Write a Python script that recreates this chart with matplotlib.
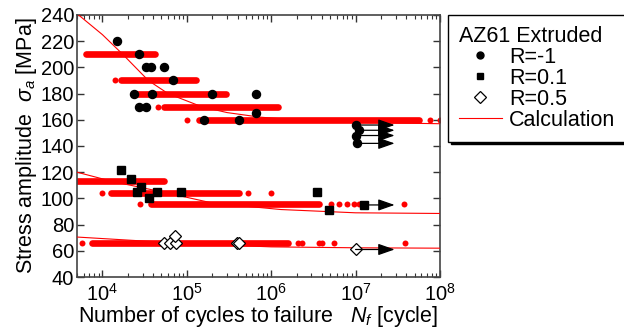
import numpy as np
import matplotlib
matplotlib.use('Agg')
from matplotlib import pyplot as plt
from matplotlib.lines import Line2D

plt.rcParams['font.family'] = ['Liberation Sans', 'DejaVu Sans']
plt.rcParams['mathtext.fontset'] = 'custom'
plt.rcParams['mathtext.rm'] = 'Liberation Sans'
plt.rcParams['mathtext.it'] = 'Liberation Sans:italic'

# experimental data, R=-1
r1_n = [1.5e4, 2.7e4, 3.3e4, 3.8e4, 5.3e4, 6.9e4, 2.4e4, 3.9e4, 2.0e5, 6.6e5,
        2.7e4, 3.3e4, 6.6e5, 1.6e5, 4.2e5]
r1_s = [220, 210, 200, 200, 200, 190, 180, 180, 180, 180,
        170, 170, 165, 160, 160]
r1_run_n = [1.0e7, 1.1e7, 1.0e7, 1.05e7]
r1_run_s = [156, 152, 148, 142]

# experimental data, R=0.1
r01_n = [1.65e4, 2.2e4, 2.9e4, 3.6e4, 2.6e4, 4.4e4, 8.5e4, 3.5e6, 4.9e6]
r01_s = [122, 115, 109, 100, 105, 105, 105, 105, 91]
r01_run_n = [1.26e7]
r01_run_s = [95]

# experimental data, R=0.5
r05_n = [5.4e4, 6.4e4, 7.4e4, 7.2e4, 3.9e5, 4.2e5]
r05_s = [66, 66, 66, 71, 66, 66]
r05_run_n = [1.0e7]
r05_run_s = [61]

# simulated scatter, dense bands: level, first N, last N
band_s = [210, 190, 180, 170, 160, 113, 104, 96, 66]
band_n0 = [6.4e3, 1.65e4, 2.3e4, 5.3e4, 1.4e5, 4.9e3, 1.25e4, 3.8e4, 7.6e3]
band_n1 = [4.2e4, 1.3e5, 2.9e5, 1.2e6, 5.7e7, 5.3e4, 4.2e5, 3.7e6, 1.6e6]

# simulated scatter, single points
dot_n = [1.4e4, 4.5e4, 1.0e5, 7.6e7, 1.0e8,
         1.0e4, 5.3e5, 1.0e6, 2.8e4,
         5.1e6, 6.3e6, 8.0e6, 9.7e6, 1.1e7, 3.7e7,
         5.7e3, 2.1e6, 2.3e6, 3.7e6, 4.0e6, 5.6e6, 3.8e7]
dot_s = [190, 170, 160, 160, 160,
         104, 104, 104, 96,
         96, 96, 96, 96, 96, 96,
         66, 66, 66, 66, 66, 66, 66]

# calculation curves
calc1_n = [5e3, 1e4, 1.74e4, 3.5e4, 6e4, 1.5e5, 3e5, 7.4e5, 3e6, 1e7, 1e8]
calc1_s = [241, 225, 210, 190, 180, 170, 165.5, 162, 159, 158, 157]
calc01_n = [5e3, 1.3e4, 6e4, 2e5, 1.3e6, 1e7, 1e8]
calc01_s = [120, 113, 104, 96.5, 91.5, 89, 88.5]
calc05_n = [5e3, 3e4, 1e5, 1e6, 1e7, 1e8]
calc05_s = [70.5, 67.5, 65.5, 63, 62.3, 62]

fig = plt.figure(figsize=(6.24, 3.3), dpi=100)
ax = fig.add_axes([0.1234, 0.1606, 0.5817, 0.794])

red = '#ff0000'
for s, n0, n1 in zip(band_s, band_n0, band_n1):
    ax.plot([n0, n1], [s, s], color=red, lw=4.8, solid_capstyle='round', zorder=2)
ax.plot(dot_n, dot_s, 'o', color=red, ms=4.3, mec='none', zorder=2)

ax.plot(calc1_n, calc1_s, '-', color=red, lw=0.8, zorder=3)
ax.plot(calc01_n, calc01_s, '-', color=red, lw=0.8, zorder=3)
ax.plot(calc05_n, calc05_s, '-', color=red, lw=0.8, zorder=3)

ax.plot(r1_n + r1_run_n, r1_s + r1_run_s, 'o', color='k', ms=5.8, zorder=4)
ax.plot(r01_n + r01_run_n, r01_s + r01_run_s, 's', color='k', ms=5.5, zorder=4)
ax.plot(r05_n + r05_run_n, r05_s + r05_run_s, 'D', mfc='white', mec='k',
        ms=6.5, mew=0.9, zorder=4)

# run-out arrows
for n, s in zip(r1_run_n + r01_run_n + r05_run_n, r1_run_s + r01_run_s + r05_run_s):
    ax.annotate('', xy=(2.9e7, s), xytext=(n, s),
                arrowprops=dict(arrowstyle='-|>,head_length=1.0,head_width=0.35',
                                color='k', lw=0.9, shrinkA=0, shrinkB=0),
                zorder=5)

ax.set_xscale('log')
ax.set_xlim(5e3, 1e8)
ax.set_ylim(40, 240)
ax.set_yticks(np.arange(40, 241, 20))
ax.set_xticks([1e4, 1e5, 1e6, 1e7, 1e8])
ax.tick_params(which='both', direction='in', top=True, right=True,
               labelsize=14.5, color='#333333')
ax.tick_params(which='major', length=5, width=1)
ax.tick_params(which='minor', length=3, width=0.8)
ax.tick_params(axis='x', pad=4)
ax.tick_params(axis='y', pad=2)
for sp in ax.spines.values():
    sp.set_color('#444444')
    sp.set_linewidth(1.2)

ax.set_ylabel(r'Stress amplitude  $\sigma_a$ [MPa]', fontsize=15.5, labelpad=1)
ax.set_xlabel(r'Number of cycles to failure   $N_f$ [cycle]', fontsize=15.5, labelpad=0)

handles = [
    Line2D([], [], ls='none', marker='o', color='k', ms=5),
    Line2D([], [], ls='none', marker='s', color='k', ms=5),
    Line2D([], [], ls='none', marker='D', mfc='white', mec='k', ms=6, mew=0.9),
    Line2D([], [], color=red, lw=0.8),
]
leg = ax.legend(handles, ['R=-1', 'R=0.1', 'R=0.5', 'Calculation'],
                title='AZ61 Extruded', title_fontsize=15.5, fontsize=15.5,
                loc='upper left', bbox_to_anchor=(448 / 624, 1 - 15 / 330),
                bbox_transform=fig.transFigure, frameon=True, fancybox=False,
                shadow={'color': 'k', 'alpha': 1}, edgecolor='k', framealpha=1,
                borderaxespad=0, labelspacing=0.0, handlelength=2.0,
                handletextpad=0.35, borderpad=0.5)
leg._legend_box.align = 'left'
leg.get_frame().set_linewidth(1.0)

fig.savefig('out.png', dpi=100)
